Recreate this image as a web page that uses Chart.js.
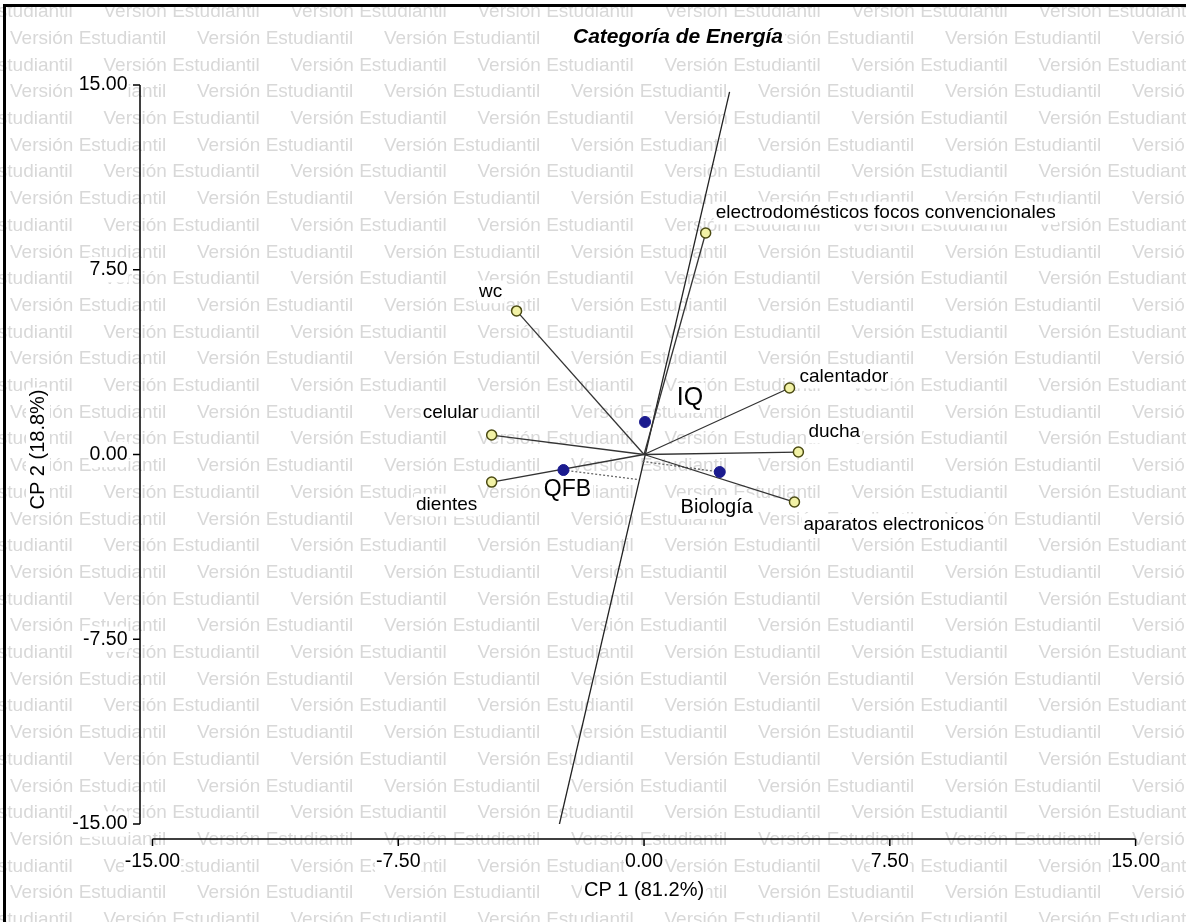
<!DOCTYPE html>
<html>
<head>
<meta charset="utf-8">
<script src="https://cdn.jsdelivr.net/npm/chart.js@4.4.1/dist/chart.umd.min.js"></script>
<style>
  html, body { margin: 0; padding: 0; background: #fff; }
  #wrap { width: 1186px; height: 922px; }
</style>
</head>
<body>
<div id="wrap"><canvas id="biplot" width="1186" height="922"></canvas></div>
<script>
// variables (vectores desde el origen)
const variables = ['electrodomésticos focos convencionales', 'wc', 'celular', 'dientes', 'calentador', 'ducha', 'aparatos electronicos'];
const varCP1 = [1.88, -3.89, -4.65, -4.65, 4.44, 4.71, 4.59];
const varCP2 = [8.99, 5.83, 0.79, -1.12, 2.70, 0.10, -1.93];

// carreras (observaciones)
const carreras = ['IQ', 'QFB', 'Biología'];
const carCP1 = [0.03, -2.46, 2.31];
const carCP2 = [1.32, -0.63, -0.71];

const origen = [0, 0];

// eje de proyección que cruza todo el gráfico
const ejeCP1 = [-2.61, 2.61];
const ejeCP2 = [-15.16, 14.72];

// pies de las proyecciones de QFB y Biología sobre el eje
const pieCP1 = [-0.18, -0.05];
const pieCP2 = [-1.02, -0.28];

const ticksCP = [-15, -7.5, 0, 7.5, 15];

// desplazamiento de cada etiqueta respecto de su punto
const varEtiq = [[10, -20, 'left'], [-26, -19, 'center'], [-41, -22, 'center'], [-45, 23, 'center'], [10, -11, 'left'], [10, -20, 'left'], [9, 23, 'left']];
const carEtiq = [[45, -24, 'center', 25], [4, 20, 'center', 23], [-3, 35, 'center', 20]];

const FONT = 'Arial, "Liberation Sans", sans-serif';

const vectores = variables.map((v, i) => ({
  data: [{ x: origen[0], y: origen[1] }, { x: varCP1[i], y: varCP2[i] }],
  showLine: true,
  borderColor: '#333',
  borderWidth: 1.3,
  pointRadius: 0,
  order: 3
}));

const proyecciones = carreras.slice(1).map((c, i) => ({
  data: [{ x: carCP1[i + 1], y: carCP2[i + 1] }, { x: pieCP1[i], y: pieCP2[i] }],
  showLine: true,
  borderColor: '#666',
  borderWidth: 1.3,
  borderDash: [2, 2],
  pointRadius: 0,
  order: 4
}));

function etiqueta(ctx, s, x, y, align, size, font) {
  ctx.font = (font || '') + size + 'px ' + FONT;
  const w = ctx.measureText(s).width;
  const x0 = align === 'left' ? x : x - w / 2;
  ctx.fillStyle = '#fff';
  ctx.fillRect(x0 - 2, y - size * 0.6, w + 4, size * 1.2);
  ctx.fillStyle = '#000';
  ctx.textAlign = 'left';
  ctx.textBaseline = 'middle';
  ctx.fillText(s, x0, y);
}

// marca de agua de fondo
const fondo = {
  id: 'fondo',
  beforeDraw(chart) {
    const ctx = chart.ctx;
    ctx.save();
    ctx.fillStyle = '#fff';
    ctx.fillRect(0, 0, chart.width, chart.height);
    ctx.font = '19px ' + FONT;
    ctx.fillStyle = '#d8d8d8';
    ctx.textBaseline = 'middle';
    const paso = 187, alto = 26.7;
    for (let fila = 0; 12 + fila * alto < chart.height + alto; fila++) {
      const y = 12 + fila * alto;
      for (let x = fila % 2 ? 10 : 10 - paso / 2; x < chart.width; x += paso) {
        ctx.fillText('Versión Estudiantil', x, y);
      }
    }
    ctx.restore();
  }
};

// ejes, etiquetas y títulos
const rotulos = {
  id: 'rotulos',
  beforeDatasetsDraw(chart) {
    const ctx = chart.ctx;
    const sx = chart.scales.x, sy = chart.scales.y;
    const area = chart.chartArea;
    ctx.save();

    const ejeX = area.left - 12.5;
    const ejeY = area.bottom + 15;
    ctx.strokeStyle = '#000';
    ctx.lineWidth = 1.5;
    ctx.beginPath();
    ctx.moveTo(ejeX, sy.getPixelForValue(ticksCP[ticksCP.length - 1]));
    ctx.lineTo(ejeX, sy.getPixelForValue(ticksCP[0]));
    ticksCP.forEach(v => {
      const p = sy.getPixelForValue(v);
      ctx.moveTo(ejeX, p);
      ctx.lineTo(ejeX - 7, p);
    });
    ctx.moveTo(sx.getPixelForValue(ticksCP[0]), ejeY);
    ctx.lineTo(sx.getPixelForValue(ticksCP[ticksCP.length - 1]), ejeY);
    ticksCP.forEach(v => {
      const p = sx.getPixelForValue(v);
      ctx.moveTo(p, ejeY);
      ctx.lineTo(p, ejeY + 7);
    });
    ctx.stroke();

    variables.forEach((v, i) => {
      const [dx, dy, al] = varEtiq[i];
      etiqueta(ctx, v, sx.getPixelForValue(varCP1[i]) + dx, sy.getPixelForValue(varCP2[i]) + dy, al, 19);
    });
    carreras.forEach((c, i) => {
      const [dx, dy, al, size] = carEtiq[i];
      etiqueta(ctx, c, sx.getPixelForValue(carCP1[i]) + dx, sy.getPixelForValue(carCP2[i]) + dy, al, size);
    });

    etiqueta(ctx, 'Categoría de Energía', 678, 37, 'center', 21, 'italic bold ');
    etiqueta(ctx, 'CP 1 (81.2%)', (area.left + area.right) / 2, 890, 'center', 20);
    ctx.save();
    ctx.translate(38, (area.top + area.bottom) / 2 - 5);
    ctx.rotate(-Math.PI / 2);
    etiqueta(ctx, 'CP 2 (18.8%)', 0, 0, 'center', 20);
    ctx.restore();
    ctx.restore();
  },
  afterDraw(chart) {
    // recuadro de la imagen
    const ctx = chart.ctx;
    ctx.save();
    ctx.fillStyle = '#000';
    ctx.fillRect(3, 4, chart.width - 3, 3);
    ctx.fillRect(3, 4, 3, chart.height - 4);
    ctx.restore();
  }
};

const ticksComunes = {
  callback: v => v.toFixed(2),
  font: { family: FONT, size: 19.5 },
  color: '#000',
  autoSkip: false,
  maxRotation: 0,
  showLabelBackdrop: true,
  backdropColor: '#fff',
  backdropPadding: 1
};

new Chart(document.getElementById('biplot'), {
  type: 'scatter',
  data: {
    datasets: [
      {
        label: 'variables',
        data: variables.map((v, i) => ({ x: varCP1[i], y: varCP2[i] })),
        pointRadius: 5,
        pointBackgroundColor: '#f2f2a6',
        pointBorderColor: '#4b4b12',
        pointBorderWidth: 1.5,
        order: 0
      },
      {
        label: 'carreras',
        data: carreras.map((c, i) => ({ x: carCP1[i], y: carCP2[i] })),
        pointRadius: 5.5,
        pointBackgroundColor: '#1b1b8f',
        pointBorderColor: '#1b1b8f',
        pointBorderWidth: 1,
        order: 1
      },
      ...vectores,
      {
        label: 'eje',
        data: [{ x: ejeCP1[0], y: ejeCP2[0] }, { x: ejeCP1[1], y: ejeCP2[1] }],
        showLine: true,
        borderColor: '#222',
        borderWidth: 1.3,
        pointRadius: 0,
        order: 5
      },
      ...proyecciones
    ]
  },
  options: {
    responsive: false,
    animation: false,
    devicePixelRatio: 1,
    layout: { padding: { left: 0, top: 85, right: 46.5, bottom: 0 } },
    plugins: {
      legend: { display: false },
      tooltip: { enabled: false }
    },
    scales: {
      x: {
        type: 'linear',
        min: -15,
        max: 15,
        afterBuildTicks: s => { s.ticks = ticksCP.map(v => ({ value: v })); },
        afterFit: s => { s.height = 98; },
        grid: { display: false, drawTicks: false },
        border: { display: false },
        ticks: { ...ticksComunes, padding: 26 }
      },
      y: {
        type: 'linear',
        min: -15,
        max: 15,
        afterBuildTicks: s => { s.ticks = ticksCP.map(v => ({ value: v })); },
        afterFit: s => { s.width = 152.5; },
        grid: { display: false, drawTicks: false },
        border: { display: false },
        ticks: { ...ticksComunes, padding: 25 }
      }
    }
  },
  plugins: [fondo, rotulos]
});
</script>
</body>
</html>
